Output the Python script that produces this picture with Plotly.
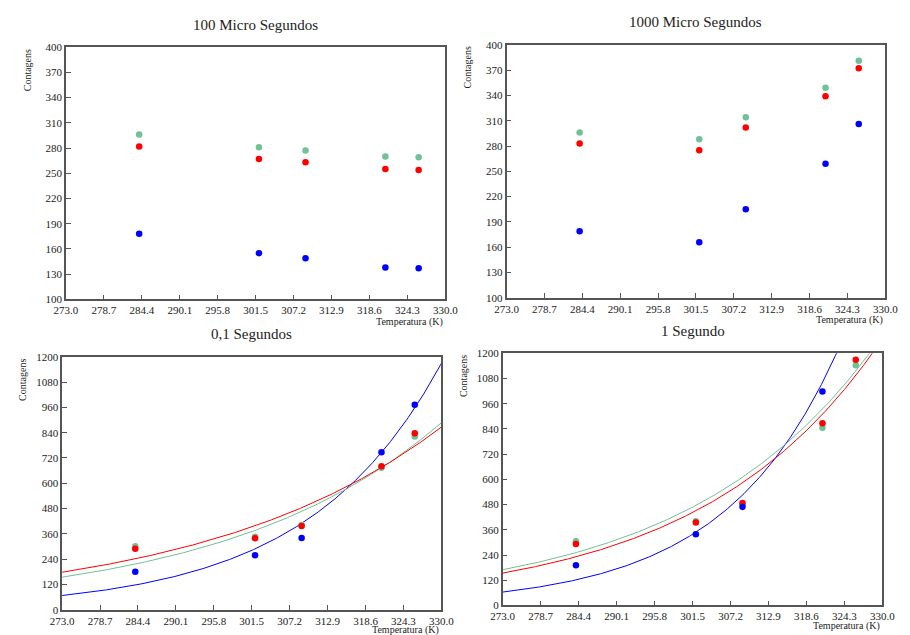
import numpy as np
import plotly.graph_objects as go

W, H = 910, 635

# ---------------- data ----------------
temps = [284.0, 302.0, 309.0, 321.0, 326.0]

# 100 micro segundos
p1_green = [296, 281, 277, 270, 269]
p1_red = [282, 267, 263, 255, 254]
p1_blue = [178, 155, 149, 138, 137]

# 1000 micro segundos
p2_green = [296, 288, 314, 349, 381]
p2_red = [283, 275, 302, 339, 372]
p2_blue = [179, 166, 205, 259, 306]

# 0,1 segundos
p3_green = [302, 347, 402, 674, 822]
p3_red = [290, 340, 397, 681, 837]
p3_blue = [181, 259, 341, 747, 972]
p3_err = [6, 8, 14, 12, 10]

# 1 segundo
p4_green = [306, 401, 480, 846, 1143]
p4_red = [292, 395, 488, 867, 1169]
p4_blue = [191, 339, 469, 1018, 1450]
p4_err = [6, 8, 10, 10, 10]

# exponential fit parameters N = A * exp(b * (T - 273))
p3_fit = {"blue": (68.0, 0.0499), "green": (155.0, 0.0306), "red": (178.3, 0.02774)}
p4_fit = {"blue": (63.7, 0.0586), "green": (170.0, 0.0355), "red": (154.0, 0.0370)}

x_ticks = [273.0, 278.7, 284.4, 290.1, 295.8, 301.5, 307.2, 312.9, 318.6, 324.3, 330.0]
y_ticks_top = list(range(100, 401, 30))
y_ticks_bot = list(range(0, 1201, 120))

titles = ["100 Micro Segundos", "1000 Micro Segundos", "0,1 Segundos", "1 Segundo"]

GREEN = "#72c096"
RED = "#ff0000"
BLUE = "#0000ff"

# pixel boxes of the plot areas (x0, x1, y0 top, y1 bottom)
boxes = [
    (55.5, 445.5, 42, 299),
    (508.5, 898, 39.5, 297.5),
    (51.5, 441.5, 357.5, 615.5),
    (504.5, 895, 354, 611),
]

FONT = "Liberation Serif"

fig = go.Figure()

def px_x(x):
    return x / W

def px_y(y):
    return 1 - y / H

panel_data = [
    (p1_green, p1_red, p1_blue, None, None),
    (p2_green, p2_red, p2_blue, None, None),
    (p3_green, p3_red, p3_blue, p3_err, p3_fit),
    (p4_green, p4_red, p4_blue, p4_err, p4_fit),
]

curve_t = np.linspace(273.0, 330.0, 300)

for i, (g, r, b, err, fit) in enumerate(panel_data):
    n = "" if i == 0 else str(i + 1)
    xa, ya = "x" + n, "y" + n
    if fit is not None:
        for key, col in (("blue", BLUE), ("green", GREEN), ("red", RED)):
            A, k = fit[key]
            fig.add_trace(go.Scatter(x=curve_t, y=A * np.exp(k * (curve_t - 273.0)),
                                     mode="lines", line=dict(color=col, width=1),
                                     xaxis=xa, yaxis=ya, showlegend=False, hoverinfo="skip"))
    for vals, col in ((g, GREEN), (r, RED), (b, BLUE)):
        ey = None
        if err is not None:
            ey = dict(type="data", array=err, color=col, thickness=1.5, width=0)
        fig.add_trace(go.Scatter(x=temps, y=vals, mode="markers",
                                 marker=dict(color=col, size=6.5),
                                 error_y=ey, xaxis=xa, yaxis=ya, showlegend=False))

layout = dict(
    width=W, height=H, margin=dict(l=0, r=0, t=0, b=0),
    paper_bgcolor="white", plot_bgcolor="white",
    font=dict(family=FONT, color="#222"),
)

annotations = []
for i, (x0, x1, y0, y1) in enumerate(boxes):
    n = "" if i == 0 else str(i + 1)
    top = i < 2
    yt = y_ticks_top if top else y_ticks_bot
    axis_common = dict(showgrid=False, zeroline=False, showline=True, mirror=True,
                       linecolor="#555", linewidth=1.5, ticks="inside", ticklen=5,
                       tickcolor="#555", tickfont=dict(family=FONT, size=11, color="#222"))
    layout["xaxis" + n] = dict(axis_common, domain=[px_x(x0), px_x(x1)],
                               range=[273.0, 330.0], tickvals=x_ticks,
                               ticktext=["%.1f" % v for v in x_ticks],
                               anchor="y" + n)
    layout["yaxis" + n] = dict(axis_common, domain=[px_y(y1), px_y(y0)],
                               range=[yt[0], yt[-1]], tickvals=yt,
                               ticktext=[str(v) for v in yt],
                               anchor="x" + n)
    annotations.append(dict(text=titles[i], x=px_x((x0 + x1) / 2), y=px_y(y0 - 23),
                            xref="paper", yref="paper", showarrow=False,
                            font=dict(family=FONT, size=15, color="#222"),
                            xanchor="center", yanchor="middle"))
    annotations.append(dict(text="Contagens", x=px_x(x0 - 40), y=px_y(y0),
                            xref="paper", yref="paper", showarrow=False, textangle=-90,
                            font=dict(family=FONT, size=10, color="#222"),
                            xanchor="center", yanchor="top"))
    ty = y1 + 23 if top else y1 + 20.5
    annotations.append(dict(text="Temperatura (K)", x=px_x(x1), y=px_y(ty),
                            xref="paper", yref="paper", showarrow=False,
                            font=dict(family=FONT, size=10, color="#222"),
                            xanchor="right", yanchor="middle"))

layout["annotations"] = annotations
fig.update_layout(**layout)
fig.write_html("out.html")
